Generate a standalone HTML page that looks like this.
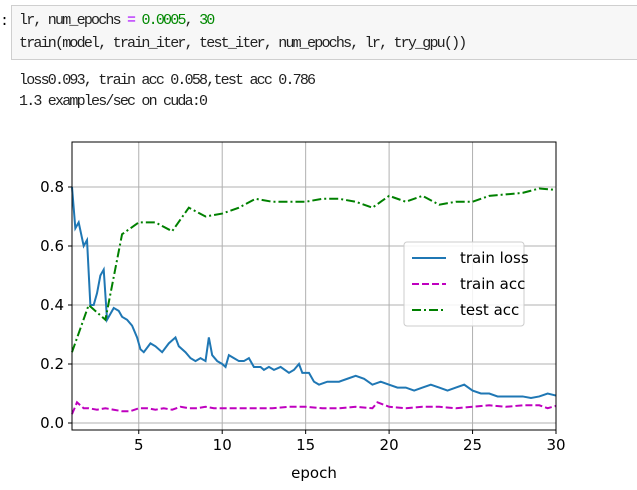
<!DOCTYPE html>
<html><head><meta charset="utf-8"><style>
body{margin:0;width:637px;height:490px;background:#fff;overflow:hidden;position:relative;font-family:"Liberation Mono","Noto Sans CJK SC",monospace}
#cell{position:absolute;left:11px;top:5px;width:640px;height:55px;background:#f7f7f7;border:1px solid #cfcfcf;box-sizing:border-box}
.ln{position:absolute;left:19px;font-size:15px;color:#222;white-space:pre;letter-spacing:-1.8px;font-family:"Liberation Mono",monospace}
</style></head><body>
<div style="position:absolute;left:0;top:13px;font-size:15px">:</div>
<div id="cell"></div>
<div class="ln" style="top:12px">lr, num_epochs <span style="color:#a0f">=</span> <span style="color:#080">0.0005</span>, <span style="color:#080">30</span></div>
<div class="ln" style="top:35px">train(model, train_iter, test_iter, num_epochs, lr, try_gpu())</div>
<div class="ln" style="top:72px">loss0.093, train acc 0.058,test acc 0.786</div>
<div class="ln" style="top:93px">1.3 examples/sec on cuda:0</div>
<svg id="chart" width="637" height="490" style="position:absolute;left:0;top:0"></svg>
<script>
const xTicks=[5,10,15,20,25,30];
const yTicks=[0.0,0.2,0.4,0.6,0.8];
const testEpochs=[1,2,3,4,5,6,7,8,9,10,11,12,13,14,15,16,17,18,19,20,21,22,23,24,25,26,27,28,29,30];
const testAcc=[0.24,0.40,0.35,0.64,0.68,0.68,0.65,0.73,0.70,0.71,0.73,0.76,0.75,0.75,0.75,0.76,0.76,0.75,0.73,0.77,0.75,0.77,0.74,0.75,0.75,0.77,0.775,0.78,0.795,0.79];
const lossEpochs=[1,1.2,1.4,1.7,1.9,2.1,2.3,2.5,2.7,2.9,3.1,3.3,3.5,3.8,4.0,4.3,4.6,4.9,5.1,5.3,5.7,6.0,6.4,6.8,7.0,7.2,7.4,7.8,8.1,8.4,8.7,9.0,9.2,9.4,9.7,10.0,10.2,10.4,10.7,11.0,11.3,11.6,11.9,12.3,12.5,12.8,13.1,13.5,14.0,14.3,14.6,14.8,15.2,15.5,15.8,16.3,17,17.5,18,18.5,19,19.5,20,20.5,21,21.5,22,22.5,23,23.5,24,24.5,25,25.5,26,26.5,27,27.5,28,28.5,29,29.5,30];
const trainLoss=[0.80,0.66,0.68,0.60,0.62,0.40,0.40,0.44,0.50,0.52,0.35,0.37,0.39,0.38,0.36,0.35,0.33,0.29,0.25,0.24,0.27,0.26,0.24,0.27,0.28,0.29,0.26,0.24,0.22,0.21,0.22,0.21,0.29,0.23,0.21,0.20,0.19,0.23,0.22,0.21,0.21,0.22,0.19,0.19,0.18,0.19,0.18,0.19,0.17,0.18,0.20,0.17,0.17,0.14,0.13,0.14,0.14,0.15,0.16,0.15,0.13,0.14,0.13,0.12,0.12,0.11,0.12,0.13,0.12,0.11,0.12,0.13,0.11,0.10,0.10,0.09,0.09,0.09,0.09,0.085,0.09,0.10,0.093];
const accEpochs=[1,1.3,1.7,2,2.5,3,3.5,4,4.5,5,5.5,6,6.5,7,7.5,8,8.5,9,9.5,10,11,12,13,14,15,16,17,18,19,19.3,20,21,22,23,24,25,26,27,28,29,29.5,30];
const trainAcc=[0.03,0.07,0.05,0.05,0.045,0.05,0.045,0.04,0.04,0.05,0.05,0.045,0.05,0.045,0.055,0.05,0.05,0.055,0.05,0.05,0.05,0.05,0.05,0.055,0.055,0.05,0.05,0.055,0.05,0.07,0.055,0.05,0.055,0.055,0.05,0.055,0.06,0.055,0.06,0.06,0.05,0.058];
const L=72,R=556,T=142,B=430;
const X=v=>L+(v-1)*(R-L)/29, Y=v=>423-v*295;
const svg=document.getElementById('chart'),NS='http://www.w3.org/2000/svg';
function mk(t,a,p){const e=document.createElementNS(NS,t);for(const k in a)e.setAttribute(k,a[k]);(p||svg).appendChild(e);return e;}
for(const t of xTicks){const g=mk('line',{x1:X(t),x2:X(t),y1:T,y2:B,stroke:'#b0b0b0','stroke-width':1});

mk('line',{x1:X(t),x2:X(t),y1:B,y2:B+4,stroke:'#000'});
const tx=mk('text',{x:X(t),y:B+20,'text-anchor':'middle','font-size':15,'font-family':'DejaVu Sans, sans-serif',fill:'#000'});tx.textContent=t;
}
for(const t of yTicks){const g=mk('line',{x1:L,x2:R,y1:Y(t),y2:Y(t),stroke:'#b0b0b0','stroke-width':1});

mk('line',{x1:L-4,x2:L,y1:Y(t),y2:Y(t),stroke:'#000'});
const tx=mk('text',{x:L-8,y:Y(t)+5,'text-anchor':'end','font-size':15,'font-family':'DejaVu Sans, sans-serif',fill:'#000'});tx.textContent=t.toFixed(1);
}
function line(xs,ys,c,d,n){const p=mk('polyline',{points:xs.map((x,i)=>X(x)+','+Y(ys[i])).join(' '),fill:'none',stroke:c,'stroke-width':2,'stroke-dasharray':d});
}
line(lossEpochs,trainLoss,'#1f77b4','none','train-loss-line');
line(accEpochs,trainAcc,'#bf00bf','7 3','train-acc-line');
line(testEpochs,testAcc,'#008000','9 3 2 3','test-acc-line');
const fr=mk('rect',{x:L,y:T,width:R-L,height:B-T,fill:'none',stroke:'#000','stroke-width':1});

const xl=mk('text',{x:(L+R)/2,y:478,'text-anchor':'middle','font-size':15,'font-family':'DejaVu Sans, sans-serif'});xl.textContent='epoch';

const lg=mk('g',{});
mk('rect',{x:404,y:242,width:120,height:84,rx:3,fill:'#fff','fill-opacity':0.85,stroke:'#ccc'},lg);
const ents=[['train loss','#1f77b4','none'],['train acc','#bf00bf','7 3'],['test acc','#008000','9 3 2 3']];
ents.forEach((e,i)=>{const y=258+i*26;const g=mk('g',{},lg);
mk('line',{x1:412,x2:446,y1:y,y2:y,stroke:e[1],'stroke-width':2,'stroke-dasharray':e[2]},g);
const t=mk('text',{x:460,y:y+5,'font-size':15,'font-family':'DejaVu Sans, sans-serif'},g);t.textContent=e[0];});
</script>
</body></html>
